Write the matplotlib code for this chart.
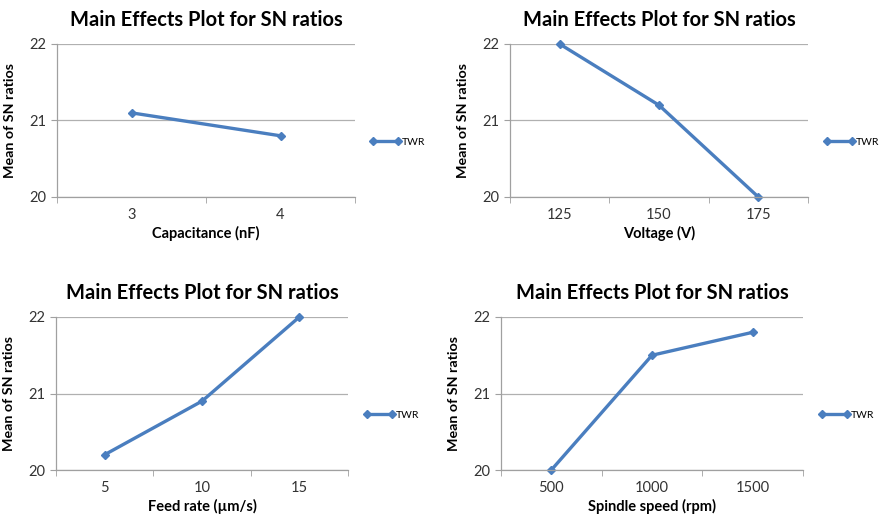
import matplotlib
matplotlib.use("Agg")
import matplotlib.pyplot as plt

plt.rcParams['font.family'] = ['Lato', 'DejaVu Sans']

title = "Main Effects Plot for SN ratios"
ylabel = "Mean of SN ratios"
series_name = "TWR"

cap_labels = ["3", "4"]
cap_values = [21.1, 20.8]

volt_labels = ["125", "150", "175"]
volt_values = [22.0, 21.2, 20.0]

feed_labels = ["5", "10", "15"]
feed_values = [20.2, 20.9, 22.0]

spin_labels = ["500", "1000", "1500"]
spin_values = [20.0, 21.5, 21.8]

xlabels = ["Capacitance (nF)", "Voltage (V)", "Feed rate (\u00b5m/s)", "Spindle speed (rpm)"]
yticks = [20, 21, 22]

W, H = 882, 520
fig = plt.figure(figsize=(W / 100, H / 100), dpi=100)

# pixel boxes: (left, top, right, bottom) of plot area, legend (x, y)
panels = [
    (cap_labels, cap_values, xlabels[0], (57, 44, 355, 197), (370, 142)),
    (volt_labels, volt_values, xlabels[1], (510, 44, 808, 197), (824, 142)),
    (feed_labels, feed_values, xlabels[2], (56, 317, 348, 470), (364, 415)),
    (spin_labels, spin_values, xlabels[3], (501, 317, 803, 470), (819, 415)),
]

color = "#4A7EBF"
for labels, values, xl, (l, t, r, b), (lx, ly) in panels:
    ax = fig.add_axes([l / W, 1 - b / H, (r - l) / W, (b - t) / H])
    n = len(labels)
    xs = list(range(n))
    ax.plot(xs, values, color=color, lw=2.4, marker="D", ms=4,
            label=series_name, clip_on=False)
    ax.set_xlim(-0.5, n - 0.5)
    ax.set_ylim(20, 22)
    ax.set_yticks(yticks)
    ax.set_xticks(xs)
    ax.set_xticklabels(labels)
    ax.set_xticks([i - 0.5 for i in range(n + 1)], minor=True)
    ax.tick_params(axis="x", which="major", length=0, pad=8, labelsize=10.5, colors="#333333")
    ax.tick_params(axis="x", which="minor", length=4, color="#a0a0a0")
    ax.tick_params(axis="y", length=4, color="#a0a0a0", labelsize=10.5, labelcolor="#333333", pad=4)
    ax.grid(axis="y", color="#b0b0b0", lw=0.9)
    ax.set_axisbelow(True)
    for s in ["top", "right"]:
        ax.spines[s].set_visible(False)
    for s in ["left", "bottom"]:
        ax.spines[s].set_color("#a0a0a0")
        ax.spines[s].set_linewidth(0.9)
    ax.set_xlabel(xl, fontsize=10.5, fontweight="bold", labelpad=3)
    ax.set_ylabel(ylabel, fontsize=10.3, fontweight="bold", labelpad=9)
    ax.set_title(title, fontsize=14.5, fontweight="bold", pad=13)
    ax.legend(loc="center left", bbox_to_anchor=(lx / W, 1 - ly / H),
              bbox_transform=fig.transFigure, frameon=False, fontsize=7.5,
              handlelength=3.0, handletextpad=0.05, borderpad=0, borderaxespad=0,
              numpoints=2, markerscale=0.9)

fig.savefig("out.png", dpi=100, facecolor="white")
